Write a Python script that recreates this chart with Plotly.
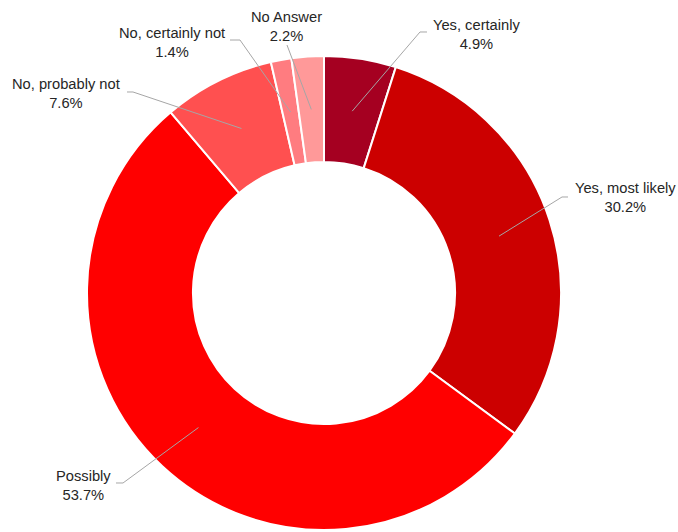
import math
import plotly.graph_objects as go

# ---- data ----
labels = ["Yes, certainly", "Yes, most likely", "Possibly",
          "No, probably not", "No, certainly not", "No Answer"]
values = [4.9, 30.2, 53.7, 7.6, 1.4, 2.2]
colors = ["#A50021", "#CC0000", "#FF0000", "#FF5050", "#FF7C80", "#FF9999"]

# ---- layout (pixels) ----
W, H = 678, 532
CX, CY, R, HOLE = 324, 293, 237, 0.553
# label centre, leader start, elbow (or None)
label_pos = [(476, 35), (625, 198), (83, 485), (66, 94), (172, 42), (286, 26)]
lead_start = [(427, 32), (568, 197), (116, 483), (127, 92), (230, 40), (287, 45)]
lead_elbow = [(420, 32), (562, 197), (123, 483), (133, 92), (240, 40), None]


def px(x):
    return x / W


def py(y):
    return 1 - y / H


fig = go.Figure()
fig.add_trace(go.Pie(
    labels=labels, values=values, sort=False, direction="clockwise",
    rotation=0, hole=HOLE, textinfo="none", hoverinfo="label+percent",
    marker=dict(colors=colors, line=dict(color="white", width=2)),
    domain=dict(x=[px(CX - R), px(CX + R)], y=[py(CY + R), py(CY - R)]),
    showlegend=False,
))

total = sum(values)
shapes, annotations = [], []
cum = 0.0
rmid = R * (1 + HOLE) / 2
for i, (lab, v) in enumerate(zip(labels, values)):
    mid = (cum + v / 2) / total
    cum += v
    ang = 2 * math.pi * mid
    ex, ey = CX + rmid * math.sin(ang), CY - rmid * math.cos(ang)
    pts = [lead_start[i]]
    if lead_elbow[i] is not None:
        pts.append(lead_elbow[i])
    pts.append((ex, ey))
    path = "M " + " L ".join(f"{px(x):.5f},{py(y):.5f}" for x, y in pts)
    shapes.append(dict(type="path", path=path, xref="paper", yref="paper",
                       line=dict(color="#A6A6A6", width=1), layer="above"))
    lx, ly = label_pos[i]
    annotations.append(dict(
        x=px(lx), y=py(ly), xref="paper", yref="paper",
        text=f"{lab}<br>{v:.1f}%", showarrow=False,
        xanchor="center", yanchor="middle", align="center",
        font=dict(family="Liberation Sans, Arial, sans-serif", size=14.7,
                  color="#262626"),
    ))

fig.update_layout(
    width=W, height=H, margin=dict(l=0, r=0, t=0, b=0),
    paper_bgcolor="white", plot_bgcolor="white",
    shapes=shapes, annotations=annotations,
)
fig.write_html("out.html")
